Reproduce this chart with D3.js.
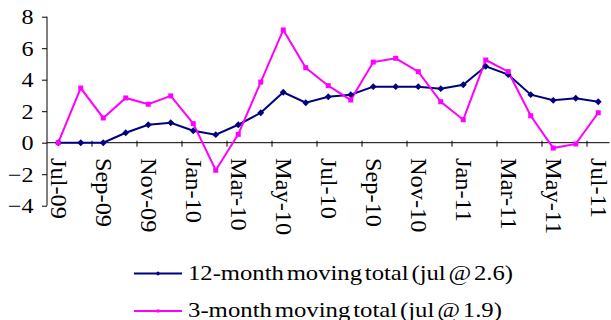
<!DOCTYPE html>
<html>
<head>
<meta charset="utf-8">
<script src="https://cdn.jsdelivr.net/npm/d3@7"></script>
<style>
  html, body { margin: 0; padding: 0; background: #fff; }
  svg { display: block; }
</style>
</head>
<body>
<svg id="chart" width="611" height="320"></svg>
<script>
// Monthly categories, Jul-09 .. Jul-11
const months = ["Jul-09","Aug-09","Sep-09","Oct-09","Nov-09","Dec-09","Jan-10","Feb-10","Mar-10","Apr-10","May-10","Jun-10","Jul-10","Aug-10","Sep-10","Oct-10","Nov-10","Dec-10","Jan-11","Feb-11","Mar-11","Apr-11","May-11","Jun-11","Jul-11"];

// 12-month moving total
const movingTotal12 = [0, 0, 0, 0.63, 1.14, 1.27, 0.76, 0.51, 1.14, 1.9, 3.2, 2.54, 2.92, 3.05, 3.56, 3.56, 3.56, 3.43, 3.68, 4.85, 4.32, 3.05, 2.69, 2.82, 2.6];

// 3-month moving total
const movingTotal3 = [0, 3.47, 1.57, 2.84, 2.44, 2.97, 1.21, -1.75, 0.53, 3.85, 7.16, 4.76, 3.62, 2.71, 5.12, 5.36, 4.51, 2.6, 1.46, 5.25, 4.51, 1.71, -0.34, -0.08, 1.9];

const yTicks = [-4, -2, 0, 2, 4, 6, 8];

const seriesNames = ["12-month moving total (jul @ 2.6)", "3-month moving total (jul @ 1.9)"];
const seriesColors = ["#000080", "#ff00ff"];

const FONT = "'Liberation Serif', 'Times New Roman', serif";

const svg = d3.select("#chart");

const x = d3.scaleBand().domain(months).range([47, 609.5]).paddingInner(0).paddingOuter(0);
const y = d3.scaleLinear().domain([-4, 8]).range([205.7, 16.7]);
const cx = i => x(months[i]) + x.bandwidth() / 2;

// Y axis
const yAxis = svg.append("g")
  .attr("transform", `translate(${x.range()[0]},0)`)
  .call(d3.axisLeft(y).tickValues(yTicks).tickSize(5).tickPadding(0).tickFormat(d3.format("d")));
yAxis.selectAll("path, line").attr("stroke", "#000").attr("stroke-width", 1);
yAxis.select(".domain").attr("d", `M0,${y(-4)}V${y(8)}`);
yAxis.selectAll("text")
  .style("font-family", FONT).style("font-size", "21px").attr("fill", "#000")
  .attr("x", null).attr("dy", null)
  .attr("text-anchor", "end")
  .attr("transform", "translate(-13.5,7) scale(1.15,1)");

// X axis at zero, ticks between every second month
const xAxisG = svg.append("g").attr("transform", `translate(0,${y(0)})`);
xAxisG.append("line")
  .attr("x1", x.range()[0]).attr("x2", x.range()[1])
  .attr("stroke", "#000").attr("stroke-width", 1);
const tickMonths = months.filter((d, i) => i % 2 === 0 && i > 0);
xAxisG.selectAll("line.tick")
  .data(tickMonths)
  .join("line")
  .attr("class", "tick")
  .attr("x1", d => x(d)).attr("x2", d => x(d))
  .attr("y1", -2).attr("y2", 4)
  .attr("stroke", "#000").attr("stroke-width", 1);

// Rotated month labels
const labelMonths = months.filter((d, i) => i % 2 === 0);
svg.append("g").selectAll("text")
  .data(labelMonths)
  .join("text")
  .attr("transform", d => `translate(${x(d) + x.bandwidth() / 2},158) rotate(90) scale(1.06,1)`)
  .attr("text-anchor", "start")
  .attr("dy", "0.32em")
  .style("font-family", FONT).style("font-size", "23px")
  .attr("fill", "#000")
  .text(d => d);

// Lines (12-month first, 3-month drawn over it)
const line = d3.line()
  .x((d, i) => cx(i))
  .y(d => y(d));

[[movingTotal12, seriesColors[0]], [movingTotal3, seriesColors[1]]].forEach(([vals, col]) => {
  svg.append("path")
    .datum(vals)
    .attr("fill", "none")
    .attr("stroke", col)
    .attr("stroke-width", 2)
    .attr("d", line);
});

// Markers: diamonds for 12-month, small squares for 3-month
const diamond = d3.symbol().type(d3.symbolDiamond2).size(30);
svg.append("g").selectAll("path")
  .data(movingTotal12)
  .join("path")
  .attr("transform", (d, i) => `translate(${cx(i)},${y(d)})`)
  .attr("d", diamond)
  .attr("fill", seriesColors[0]);

svg.append("g").selectAll("rect")
  .data(movingTotal3)
  .join("rect")
  .attr("x", (d, i) => cx(i) - 2.5)
  .attr("y", d => y(d) - 2.5)
  .attr("width", 5).attr("height", 5)
  .attr("fill", seriesColors[1]);

// Legend
const legend = svg.append("g");
const legendRows = [
  { name: seriesNames[0], color: seriesColors[0], y: 273.5, marker: "diamond", w: 325 },
  { name: seriesNames[1], color: seriesColors[1], y: 311, marker: "square", w: 314 }
];
legendRows.forEach(r => {
  legend.append("line")
    .attr("x1", 134).attr("x2", 182)
    .attr("y1", r.y).attr("y2", r.y)
    .attr("stroke", r.color).attr("stroke-width", 2);
  if (r.marker === "diamond") {
    legend.append("path")
      .attr("transform", `translate(158,${r.y})`)
      .attr("d", d3.symbol().type(d3.symbolDiamond2).size(14))
      .attr("fill", r.color);
  } else {
    legend.append("rect")
      .attr("x", 156.5).attr("y", r.y - 1.5).attr("width", 3).attr("height", 3)
      .attr("fill", r.color);
  }
  legend.append("text")
    .attr("x", 188).attr("y", r.y + 6)
    .style("font-family", FONT).style("font-size", "22px")
    .attr("fill", "#000")
    .attr("word-spacing", "-3px")
    .attr("textLength", r.w).attr("lengthAdjust", "spacingAndGlyphs")
    .text(r.name);
});
</script>
</body>
</html>
